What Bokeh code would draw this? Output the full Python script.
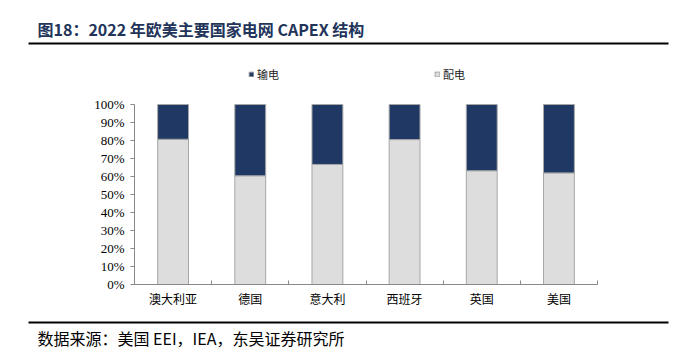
from bokeh.plotting import figure
from bokeh.layouts import column
from bokeh.models import (ColumnDataSource, Range1d, FixedTicker, NumeralTickFormatter,
                          Legend, LegendItem)
from bokeh.core.properties import value
from bokeh.embed import file_html
from bokeh.resources import INLINE

categories = ["澳大利亚", "德国", "意大利", "西班牙", "英国", "美国"]
distribution = [0.807, 0.604, 0.667, 0.805, 0.632, 0.620]   # 配电
transmission = [round(1 - d, 3) for d in distribution]      # 输电
series_names = ["配电", "输电"]
title_text = "图18：2022 年欧美主要国家电网 CAPEX 结构"
source_text = "数据来源：美国 EEI，IEA，东吴证券研究所"

NAVY = "#1F3864"
LIGHT = "#DDDDDD"
OUTLINE = "#A6A6A6"
W = 682

def blank(height, y0):
    f = figure(width=W, height=height, output_backend="svg", toolbar_location=None,
               x_range=Range1d(0, W), y_range=Range1d(y0 + height, y0),
               min_border=0, min_border_left=0, min_border_right=0,
               min_border_top=0, min_border_bottom=0, frame_align=False)
    f.axis.visible = False
    f.grid.grid_line_color = None
    f.outline_line_color = None
    return f

# ---- header (title + rule) ----
HEAD_H = 52
head = blank(HEAD_H, 0)
head.text(x=[37], y=[28], text=[title_text], text_font=value("Noto Sans CJK SC"),
          text_font_size="16px", text_font_style="bold", text_color="#22345A",
          text_baseline="middle", text_align="left")
head.segment(x0=[28], y0=[43], x1=[668], y1=[43], line_color="black", line_width=2)

# ---- chart ----
TOP, FT, FB, BOT = 52, 60, 284, 312
FL, FR = 134, 597
ymax = 1 + (104 - FT) / 180.0

positions = [i + 0.5 for i in range(len(categories))]
src = ColumnDataSource(dict(x=positions, 配电=distribution, 输电=transmission))

p = figure(width=W, height=BOT - TOP, output_backend="svg", toolbar_location=None,
           x_range=Range1d(0, len(categories)), y_range=Range1d(0, ymax),
           min_border_left=FL, min_border_right=W - FR,
           min_border_top=FT - TOP, min_border_bottom=BOT - FB, frame_align=False)
p.outline_line_color = None
p.grid.grid_line_color = None

rs = p.vbar_stack(series_names, x="x", width=0.40, source=src,
                  fill_color=[LIGHT, NAVY], line_color=OUTLINE, line_width=1)

ya = p.yaxis[0]
ya.bounds = (0, 1)
ya.ticker = FixedTicker(ticks=[i / 10 for i in range(11)])
ya.formatter = NumeralTickFormatter(format="0%")
ya.axis_line_color = "#888888"
ya.major_tick_line_color = "#888888"
ya.major_tick_out = 4
ya.major_tick_in = 0
ya.minor_tick_line_color = None
ya.major_label_text_font = "Liberation Serif"
ya.major_label_text_font_size = "13px"
ya.major_label_text_color = "black"
ya.major_label_standoff = 6

xa = p.xaxis[0]
xa.ticker = FixedTicker(ticks=positions, minor_ticks=list(range(len(categories) + 1)))
xa.major_label_overrides = {pos: c for pos, c in zip(positions, categories)}
xa.axis_line_color = "#888888"
xa.major_tick_line_color = None
xa.major_tick_out = 0
xa.major_tick_in = 0
xa.minor_tick_line_color = "#888888"
xa.minor_tick_out = 0
xa.minor_tick_in = 4
xa.major_label_text_font = "Noto Sans CJK SC"
xa.major_label_text_font_size = "12px"
xa.major_label_text_color = "black"
xa.major_label_standoff = 5

legend = Legend(items=[LegendItem(label=series_names[1], renderers=[rs[1]]),
                       LegendItem(label=series_names[0], renderers=[rs[0]])],
                orientation="horizontal", location=(114, 284 - 82),
                glyph_width=6, glyph_height=6, label_standoff=3, spacing=155,
                padding=0, margin=0, border_line_color=None,
                background_fill_alpha=0, label_text_font="Noto Sans CJK SC",
                label_text_font_size="11px", label_text_color="#222222",
                label_height=12, label_width=20)
p.add_layout(legend, "center")

# ---- footer ----
foot = blank(356 - BOT, BOT)
foot.segment(x0=[28], y0=[322], x1=[668], y1=[322], line_color="black", line_width=2)
foot.text(x=[37], y=[337], text=[source_text], text_font=value("Noto Sans CJK SC"),
          text_font_size="16px", text_color="black",
          text_baseline="middle", text_align="left")

layout = column(head, p, foot, spacing=0)
open("out.html", "w").write(file_html(layout, INLINE))
